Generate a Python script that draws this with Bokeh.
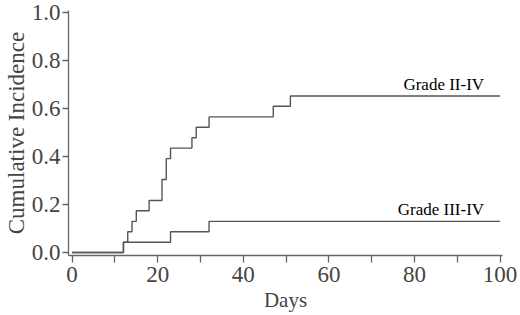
from bokeh.plotting import figure
from bokeh.models import Range1d, FixedTicker
from bokeh.core.properties import value
from bokeh.embed import file_html
from bokeh.resources import INLINE

# Data
gvhd24_days = [0, 12, 13, 14, 15, 18, 21, 22, 23, 28, 29, 32, 47, 51, 100]
gvhd24_ci = [0.0, 0.043, 0.087, 0.130, 0.174, 0.217, 0.304, 0.391, 0.435,
             0.478, 0.522, 0.565, 0.609, 0.652, 0.652]
gvhd24_label = "Grade II-IV"

gvhd34_days = [0, 12, 23, 32, 100]
gvhd34_ci = [0.0, 0.043, 0.087, 0.130, 0.130]
gvhd34_label = "Grade III-IV"

x_major_ticks = [0, 20, 40, 60, 80, 100]
x_minor_ticks = [10, 30, 50, 70, 90]
y_ticks = [0.0, 0.2, 0.4, 0.6, 0.8, 1.0]
y_tick_labels = ["0.0", "0.2", "0.4", "0.6", "0.8", "1.0"]
x_title = "Days"
y_title = "Cumulative Incidence"

FONT = "Liberation Serif"
LINE = "#555555"
AXIS = "#666666"

xr = Range1d(-0.84, 100.56)
yr = Range1d(-0.0122, 1.008)
p = figure(width=520, height=315, output_backend="svg", toolbar_location=None,
           x_range=xr, y_range=yr,
           min_border_left=68, min_border_right=18, min_border_top=10,
           min_border_bottom=60)
p.outline_line_color = None
p.xgrid.grid_line_color = None
p.ygrid.grid_line_color = None
p.background_fill_color = "white"
p.border_fill_color = "white"

for days, ci, label in [(gvhd24_days, gvhd24_ci, gvhd24_label),
                        (gvhd34_days, gvhd34_ci, gvhd34_label)]:
    p.step(days, ci, mode="after", line_color=LINE, line_width=1.4)
    p.text(x=[days[-1]], y=[ci[-1]], text=[label], text_align="right",
           text_baseline="bottom", x_offset=-16, y_offset=-2,
           text_font=value(FONT), text_font_size="17px", text_color="black")

# X axis
xa = p.xaxis[0]
xa.ticker = FixedTicker(ticks=x_major_ticks, minor_ticks=x_minor_ticks)
xa.axis_label = x_title
xa.axis_label_text_font = FONT
xa.axis_label_text_font_style = "normal"
xa.axis_label_text_font_size = "21px"
xa.axis_label_standoff = 3
xa.major_label_text_font = FONT
xa.major_label_text_font_size = "23px"
xa.major_label_standoff = 4
xa.axis_line_color = AXIS
xa.axis_line_width = 1.3
xa.major_tick_line_color = AXIS
xa.minor_tick_line_color = AXIS
xa.major_tick_line_width = 1.3
xa.minor_tick_line_width = 1.3
xa.major_tick_out = 7
xa.major_tick_in = 0
xa.minor_tick_out = 7
xa.minor_tick_in = 0

# Y axis
ya = p.yaxis[0]
ya.ticker = FixedTicker(ticks=y_ticks, minor_ticks=[])
ya.major_label_overrides = {t: s for t, s in zip(y_ticks, y_tick_labels)}
ya.axis_label = y_title
ya.axis_label_text_font = FONT
ya.axis_label_text_font_style = "normal"
ya.axis_label_text_font_size = "23px"
ya.axis_label_standoff = 0
ya.major_label_text_font = FONT
ya.major_label_text_font_size = "23px"
ya.major_label_standoff = 2
ya.axis_line_color = AXIS
ya.axis_line_width = 1.3
ya.major_tick_line_color = AXIS
ya.major_tick_line_width = 1.3
ya.major_tick_out = 6
ya.major_tick_in = 0
ya.minor_tick_out = 0
ya.minor_tick_in = 0

open("out.html", "w").write(file_html(p, INLINE))
